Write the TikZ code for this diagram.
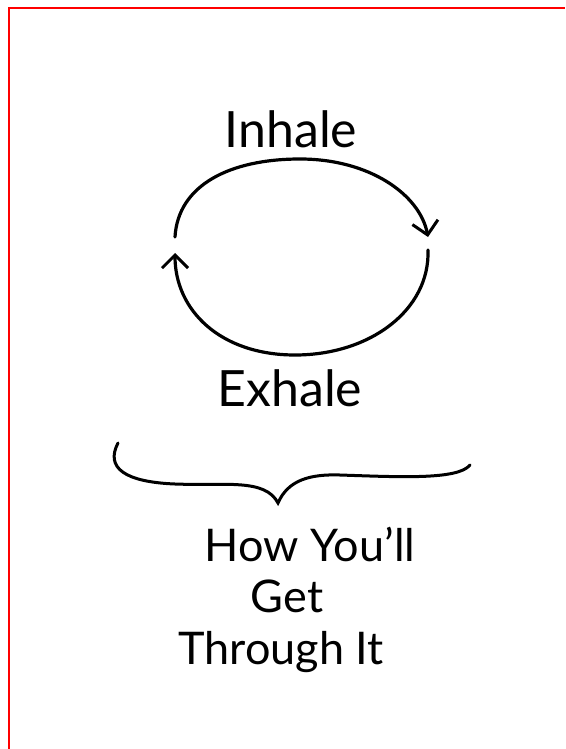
\documentclass[tikz,border=0pt]{standalone}
\usepackage{fontspec}
\setmainfont{Lato}
\usetikzlibrary{arrows.meta, positioning}

\begin{document}
\begin{tikzpicture}[
    x=1pt, y=-1pt,
    every node/.style={inner sep=0pt},
    word/.style={anchor=base, font=\fontsize{50}{60}\selectfont},
    smallword/.style={anchor=base, font=\fontsize{45}{52}\selectfont},
    breath/.style={line width=3.2pt, line cap=round, -{Straight Barb[length=13pt, width=26pt, line width=3pt]}},
    brace/.style={line width=3pt, line cap=round}
]
\useasboundingbox (0,0) rectangle (565,749);

% Frame
\draw[red, line width=2.5pt] (9,749) -- (9,8) -- (565,8);

% Labels
\node[word] (inhale) at (291,147) {Inhale};
\node[word] (exhale) at (290,406) {Exhale};

\node[smallword] (how) at (310,561) {How You'll};
\node[smallword] (get) at (287,612) {Get};
\node[smallword] (through) at (281,664) {Through It};

% Breathing cycle
\coordinate (inL) at (175,237);
\coordinate (inR) at (428,237);
\coordinate (exR) at (428,250);
\coordinate (exL) at (175,253);

\draw[breath] (inL) .. controls (178,185) and (230,159) .. (300,159)
    .. controls (370,159) and (420,195) .. (inR);
\draw[breath] (exR) .. controls (430,310) and (370,355) .. (295,355)
    .. controls (220,355) and (175,310) .. (exL);

% Brace
\coordinate (bl) at (118,443);
\coordinate (btip) at (278,503);
\coordinate (br) at (470,465);

\draw[brace] (bl) .. controls (105,468) and (125,482) .. (175,484)
    .. controls (225,486) and (265,478) .. (btip)
    .. controls (288,480) and (310,474) .. (340,475)
    .. controls (400,477) and (458,480) .. (br);

\end{tikzpicture}
\end{document}
